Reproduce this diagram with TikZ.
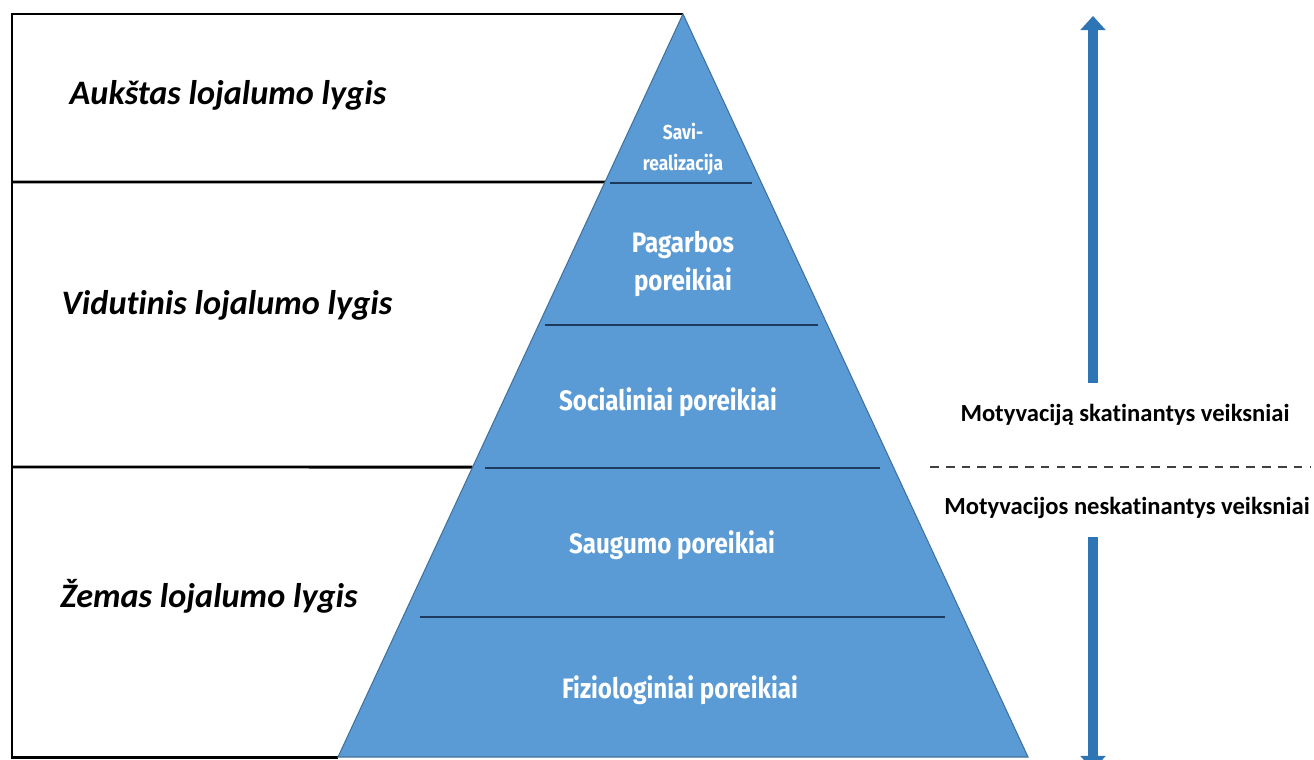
\documentclass[tikz,border=0pt]{standalone}
\usepackage{fontspec}
\setmainfont{Carlito}[Ligatures=NoCommon]
\newfontfamily\pyrfont[FakeStretch=0.86,Ligatures=NoCommon]{Fira Sans}
\usetikzlibrary{positioning,arrows.meta,calc}
\definecolor{pyrblue}{HTML}{5B9BD5}
\definecolor{pyredge}{HTML}{41719C}
\definecolor{arrblue}{HTML}{2E75B6}
\definecolor{tiercol}{HTML}{1F3A5F}

\begin{document}
\begin{tikzpicture}[
  x=0.02cm, y=-0.02cm,
  loyal/.style={font=\fontsize{19.5}{22}\selectfont\bfseries\itshape},
  need/.style={font=\pyrfont\bfseries\fontsize{16}{21.5}\selectfont, text=white, align=center},
  smallneed/.style={need, font=\pyrfont\bfseries\fontsize{11.5}{18}\selectfont},
  factor/.style={font=\fontsize{14}{16}\selectfont\bfseries},
  lvlframe/.style={line width=1.7pt},
  tierline/.style={draw=tiercol, line width=1.3pt},
  arr/.style={-{Triangle[width=14pt,length=8pt]}, line width=5.5pt, draw=arrblue}
]
  \useasboundingbox (0,0) rectangle (1314,760);

  \coordinate (apex) at (683,14);
  \coordinate (bl) at (338,757);
  \coordinate (br) at (1028,757);
  \coordinate (cutA) at ($(apex)!0.2261!(bl)$);
  \coordinate (cutB) at ($(apex)!0.6097!(bl)$);

  % loyalty frame
  \draw[lvlframe] (bl) -- (12,757) -- (12,14) -- (apex);
  \draw[lvlframe] (12,182) -- (cutA);
  \draw[lvlframe] (12,467) -- (cutB);

  % pyramid
  \fill[pyrblue, draw=pyredge, line width=0.6pt] (apex) -- (br) -- (bl) -- cycle;
  \foreach \yy/\xl/\xr in {183/610/752, 325/545/818, 468/485/880, 617/420/945}
    \draw[tierline] (\xl,\yy) -- (\xr,\yy);

  \node[smallneed] (selfreal) at (683,149) {Savi-\\realizacija};
  \node[need] (esteem) at (683,264) {Pagarbos\\poreikiai};
  \node[need] (social) at (668,402) {Socialiniai poreikiai};
  \node[need] (safety) at (672,545) {Saugumo poreikiai};
  \node[need] (physio) at (680,690) {Fiziologiniai poreikiai};

  \node[loyal] (high) at (228,95) {Aukštas lojalumo lygis};
  \node[loyal] (mid) at (227,305) {Vidutinis lojalumo lygis};
  \node[loyal] (low) at (209,596) {Žemas lojalumo lygis};

  % motivation factors
  \node[factor] (motiv) at (1125,415) {Motyvaciją skatinantys veiksniai};
  \node[factor] (nomotiv) at (1127,508) {Motyvacijos neskatinantys veiksniai};

  \coordinate (dashL) at (930,467);
  \coordinate (dashR) at (1310,467);
  \draw[dash pattern=on 5pt off 4pt, line width=0.8pt, black!75] (dashL) -- (dashR);

  \coordinate (upfoot) at (1093,383);
  \coordinate (uptip) at (1093,16);
  \coordinate (downfoot) at (1093,537);
  \coordinate (downtip) at (1093,770);
  \draw[arr] (upfoot) -- (uptip);
  \draw[arr] (downfoot) -- (downtip);
\end{tikzpicture}
\end{document}
